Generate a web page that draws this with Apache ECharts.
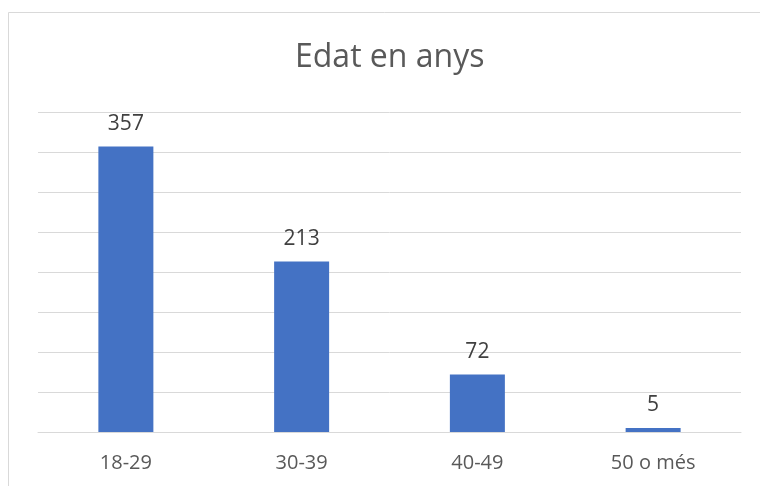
<!DOCTYPE html>
<html>
<head>
<meta charset="utf-8">
<script src="https://cdn.jsdelivr.net/npm/echarts@6/dist/echarts.min.js"></script>
<style>html,body{margin:0;padding:0;background:#fff}#c{width:760px;height:486px}</style>
</head>
<body>
<div id="c"></div>
<script>
const categories = ['18-29', '30-39', '40-49', '50 o més'];
const values = [357, 213, 72, 5];
const titleText = 'Edat en anys';

const chart = echarts.init(document.getElementById('c'));
chart.setOption({
  backgroundColor: '#fff',
  animation: false,
  graphic: [{
    type: 'rect', silent: true, z: -1,
    shape: { x: 8.5, y: 12.5, width: 800, height: 600 },
    style: { fill: 'none', stroke: '#d9d9d9', lineWidth: 1 }
  }],
  title: {
    text: titleText, left: 295, top: 42, padding: 0,
    textStyle: { fontFamily: 'Open Sans', fontSize: 32, fontWeight: 'normal', color: '#595959' }
  },
  grid: { left: 38, right: 19, top: 112, bottom: 54 },
  xAxis: {
    type: 'category', data: categories,
    axisLine: { lineStyle: { color: '#d9d9d9', width: 1 } },
    axisTick: { show: false },
    axisLabel: { color: '#595959', fontFamily: 'Open Sans', fontSize: 20, margin: 21 }
  },
  yAxis: {
    type: 'value', min: 0, max: 400, interval: 50,
    axisLabel: { show: false }, axisLine: { show: false }, axisTick: { show: false },
    splitLine: { lineStyle: { color: '#d9d9d9', width: 1 } }
  },
  series: [{
    type: 'bar', data: values, barWidth: 55,
    itemStyle: { color: '#4472c4' },
    label: { show: true, position: 'top', distance: 12, color: '#404040', fontFamily: 'Open Sans', fontSize: 21 }
  }]
});
</script>
</body>
</html>
